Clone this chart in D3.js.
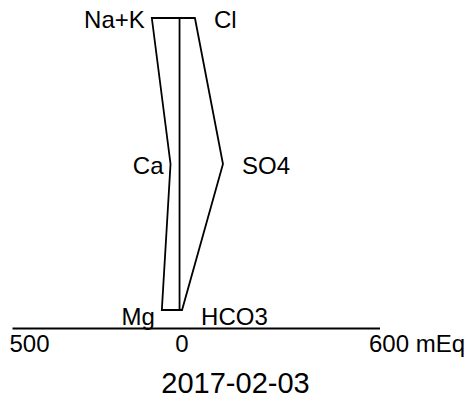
<!DOCTYPE html>
<html><head><meta charset="utf-8">
<script src="https://cdn.jsdelivr.net/npm/d3@7"></script>
<style>html,body{margin:0;padding:0;background:#fff;}</style>
</head><body>
<svg id="c" width="471" height="401"></svg>
<script>
const cations = ["Na+K", "Ca", "Mg"];
const anions = ["Cl", "SO4", "HCO3"];
const cationValues = [83, 27, 53];
const anionValues = [46, 130, 7.5];
const tickLabels = ["500", "0", "600 mEq"];
const title = "2017-02-03";

const svg = d3.select("#c");
const font = "'Liberation Sans', Arial, sans-serif";
const fs = 24;
const x = d3.scaleLinear().domain([-500, 600]).range([12.5, 380]);
const y = d3.scalePoint().domain([0, 1, 2]).range([18, 310]);

const pts = [];
cations.forEach((c, i) => pts.push([x(-cationValues[i]), y(i)]));
for (let i = anions.length - 1; i >= 0; i--) pts.push([x(anionValues[i]), y(i)]);

svg.append("path")
  .attr("d", d3.line()(pts) + "Z")
  .attr("fill", "none").attr("stroke", "#000").attr("stroke-width", 1.8)
  .attr("stroke-linejoin", "miter");
svg.append("line")
  .attr("x1", x(0)).attr("x2", x(0)).attr("y1", y(0)).attr("y2", y(2))
  .attr("stroke", "#000").attr("stroke-width", 1.8);

const dy = [10, 10, 15];
cations.forEach((c, i) => {
  svg.append("text").attr("x", x(-cationValues[i]) - 7).attr("y", y(i) + dy[i])
    .attr("text-anchor", "end").attr("font-family", font).attr("font-size", fs).text(c);
});
anions.forEach((a, i) => {
  svg.append("text").attr("x", x(anionValues[i]) + 19).attr("y", y(i) + dy[i])
    .attr("text-anchor", "start").attr("font-family", font).attr("font-size", fs).text(a);
});

// axis
svg.append("line").attr("x1", x(-500)).attr("x2", x(600)).attr("y1", 328.5).attr("y2", 328.5)
  .attr("stroke", "#000").attr("stroke-width", 2);
svg.append("text").attr("x", x(-500) - 3).attr("y", 351.5).attr("font-family", font)
  .attr("font-size", fs).attr("text-anchor", "start").text(tickLabels[0]);
svg.append("text").attr("x", x(0) + 2.5).attr("y", 351.5).attr("font-family", font)
  .attr("font-size", fs).attr("text-anchor", "middle").text(tickLabels[1]);
svg.append("text").attr("x", x(600) - 11).attr("y", 351.5).attr("font-family", font)
  .attr("font-size", fs).attr("text-anchor", "start").text(tickLabels[2]);

svg.append("text").attr("x", 235.5).attr("y", 393).attr("font-family", font)
  .attr("font-size", 29).attr("text-anchor", "middle").text(title);
</script>
</body></html>
